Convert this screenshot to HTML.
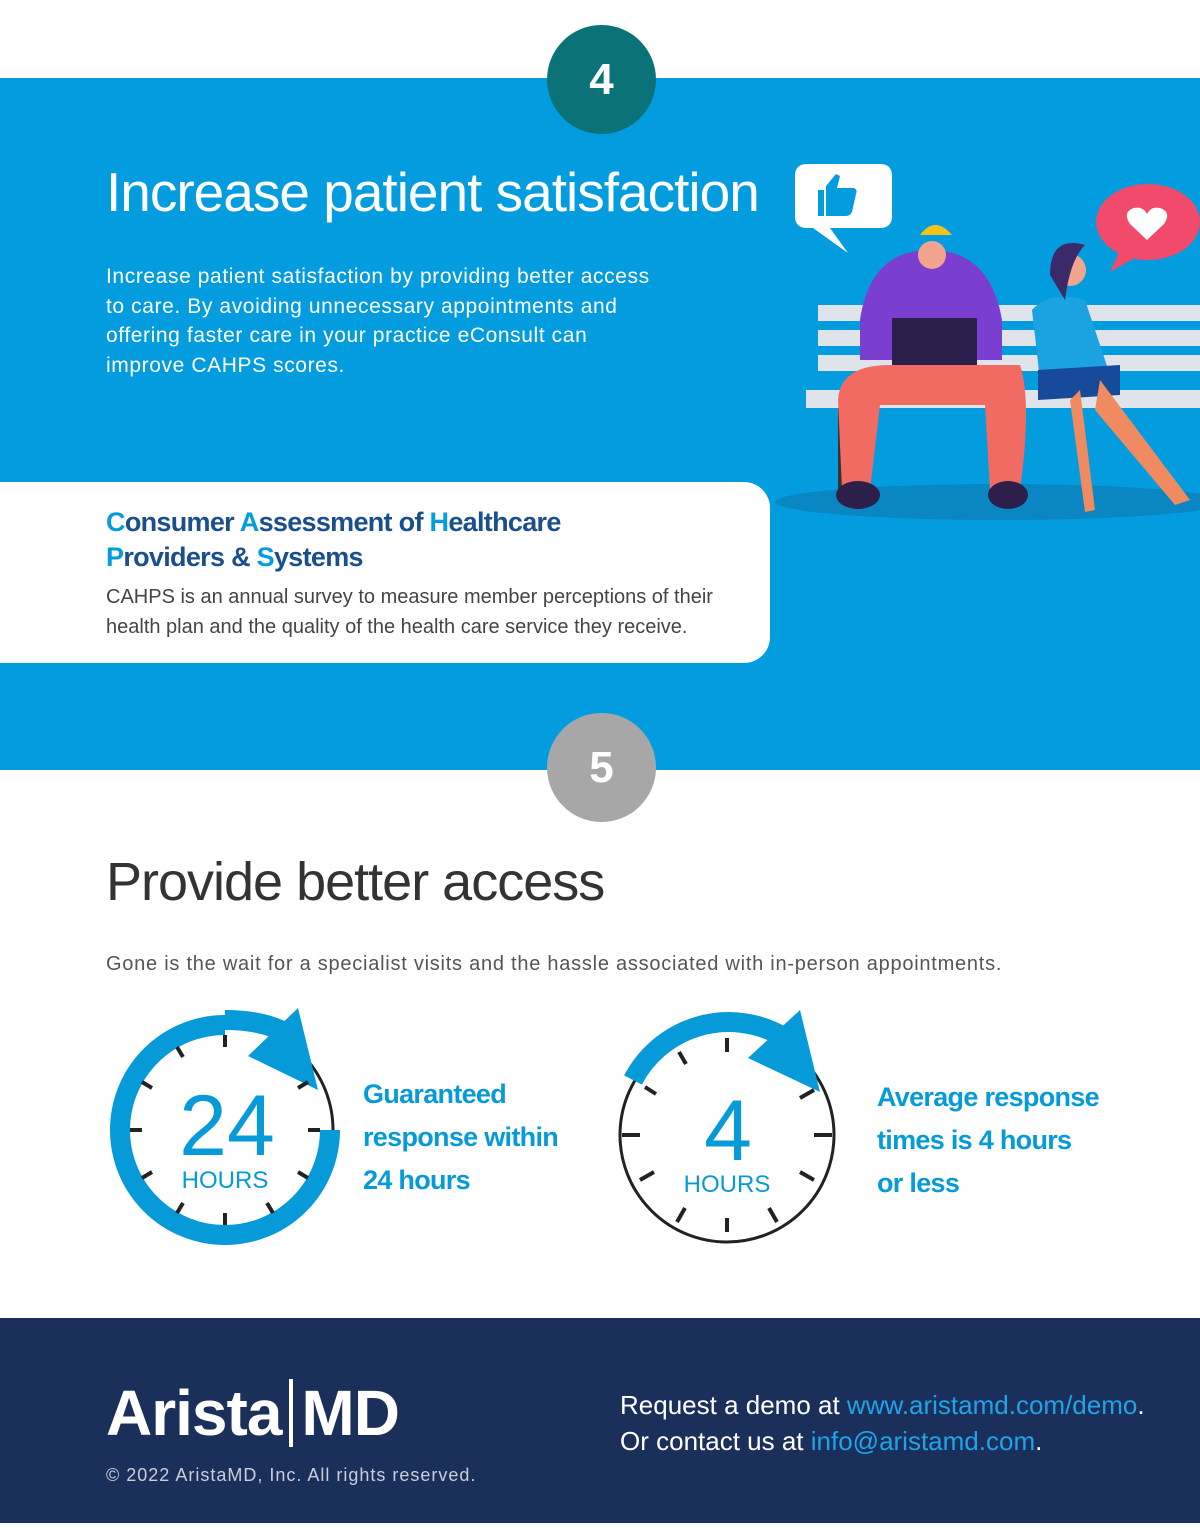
<!DOCTYPE html>
<html><head><meta charset="utf-8"><style>
body{margin:0;width:1200px;height:1533px;position:relative;background:#fff;font-family:"Liberation Sans",sans-serif;overflow:hidden}
.abs{position:absolute}
</style></head><body>
<div class="abs" style="left:0;top:78px;width:1200px;height:692px;background:#039ddf"></div>
<div class="abs" style="left:547px;top:25px;width:109px;height:109px;border-radius:50%;background:#0b7377;color:#fff;font-size:44px;font-weight:bold;text-align:center;line-height:109px">4</div>
<div class="abs" style="left:106px;top:160px;color:#fff;font-size:55px;font-weight:300;letter-spacing:-1px">Increase patient satisfaction</div>
<div class="abs" style="left:106px;top:262px;width:562px;color:#fff;font-size:21px;line-height:29.5px;letter-spacing:0.6px">Increase patient satisfaction by providing better access to care. By avoiding unnecessary appointments and offering faster care in your practice eConsult can improve CAHPS scores.</div>

<svg class="abs" style="left:770px;top:150px" width="430" height="380">
<ellipse cx="230" cy="352" rx="225" ry="18" fill="#0a86c2"/>
<rect x="48" y="155" width="382" height="16" fill="#dfe3ea"/>
<rect x="48" y="180" width="382" height="16" fill="#dfe3ea"/>
<rect x="48" y="205" width="382" height="16" fill="#dfe3ea"/>
<rect x="36" y="240" width="394" height="18" fill="#dfe3ea"/>
<rect x="68" y="258" width="10" height="90" fill="#333"/>
<path d="M90 170 Q100 100 160 100 Q220 100 232 170 L232 210 L90 210Z" fill="#7a3fd1"/>
<circle cx="162" cy="105" r="14" fill="#f2a48f"/>
<path d="M150 85 Q165 65 182 85 Z" fill="#f5c318"/>
<rect x="122" y="168" width="85" height="55" fill="#2c1f4a"/>
<path d="M68 250 Q70 215 120 215 L250 215 Q262 250 250 340 L220 340 L215 255 L110 255 L100 340 L72 340Z" fill="#f26b63"/>
<ellipse cx="88" cy="345" rx="22" ry="14" fill="#2c1f4a"/>
<ellipse cx="238" cy="345" rx="20" ry="14" fill="#2c1f4a"/>
<path d="M262 160 Q280 140 315 150 L340 225 L270 230Z" fill="#1ba2e0"/>
<circle cx="300" cy="120" r="16" fill="#f2a48f"/>
<path d="M280 125 Q280 85 315 95 Q300 110 295 150Z" fill="#3a2a6a"/>
<path d="M268 220 L350 215 L350 245 L268 250Z" fill="#174b9a"/>
<path d="M330 230 L420 350 L405 355 L325 260Z M310 240 L325 360 L315 362 L300 250Z" fill="#f08a60"/>
<path d="M37 14 h73 q12 0 12 12 v40 q0 12 -12 12 h-50 l18 25 -35 -25 h-6 q-12 0 -12 -12 v-40 q0 -12 12 -12Z" fill="#fff"/>
<path d="M56 36 l10 -12 l4 2 l-3 12 h17 q4 2 2 6 l-4 18 q-2 4 -6 4 h-20 Z M48 40 h6 v26 h-6Z" fill="#039ddf"/>
<ellipse cx="378" cy="72" rx="52" ry="38" fill="#f14a6a"/>
<path d="M350 100 L340 122 L368 106Z" fill="#f14a6a"/>
<path d="M377 90 L360 74 Q352 62 364 58 Q373 56 377 64 Q381 56 390 58 Q402 62 394 74Z" fill="#fff"/>
</svg>

<div class="abs" style="left:0;top:482px;width:770px;height:181px;background:#fff;border-radius:0 26px 26px 0"></div>
<div class="abs" style="left:106px;top:505px;color:#1a4e8c;font-size:27px;font-weight:bold;line-height:35px;letter-spacing:-0.7px"><span style="color:#039ddf">C</span>onsumer <span style="color:#039ddf">A</span>ssessment of <span style="color:#039ddf">H</span>ealthcare<br><span style="color:#039ddf">P</span>roviders &amp; <span style="color:#039ddf">S</span>ystems</div>
<div class="abs" style="left:106px;top:582px;width:640px;color:#444;font-size:20px;line-height:30px;font-weight:300">CAHPS is an annual survey to measure member perceptions of their health plan and the quality of the health care service they receive.</div>

<div class="abs" style="left:547px;top:713px;width:109px;height:109px;border-radius:50%;background:#a7a7a7;color:#fff;font-size:44px;font-weight:bold;text-align:center;line-height:109px">5</div>
<div class="abs" style="left:106px;top:851px;color:#333;font-size:54px;font-weight:300;letter-spacing:-1px">Provide better access</div>
<div class="abs" style="left:106px;top:953px;color:#555;font-size:20px;letter-spacing:0.75px">Gone is the wait for a specialist visits and the hassle associated with in-person appointments.</div>

<svg class="abs" style="left:0;top:990px" width="1200" height="280">
<g>
<circle cx="225" cy="140" r="108" fill="none" stroke="#222" stroke-width="3"/>
<path d="M330 140 A105 105 0 1 1 225 35" fill="none" stroke="#079ad9" stroke-width="20"/>
<path d="M225 30 Q265 30 290 45" fill="none" stroke="#079ad9" stroke-width="20"/>
<path d="M248 66 L298 18 L318 100Z" fill="#079ad9"/>
<g stroke="#222" stroke-width="4">
<line x1="225" y1="45" x2="225" y2="57"/><line x1="225" y1="223" x2="225" y2="235"/>
<line x1="130" y1="140" x2="142" y2="140"/><line x1="308" y1="140" x2="320" y2="140"/>
<line x1="177" y1="57" x2="183" y2="67"/><line x1="142" y1="92" x2="152" y2="98"/>
<line x1="142" y1="188" x2="152" y2="182"/><line x1="177" y1="223" x2="183" y2="213"/>
<line x1="273" y1="223" x2="267" y2="213"/><line x1="308" y1="188" x2="298" y2="182"/>
<line x1="308" y1="92" x2="298" y2="98"/></g>
<text x="227" y="165" text-anchor="middle" font-size="86" fill="#079ad9" font-family="Liberation Sans" font-weight="300">24</text>
<text x="225" y="198" text-anchor="middle" font-size="24" fill="#079ad9" font-family="Liberation Sans">HOURS</text>
</g>
<g>
<circle cx="727" cy="145" r="107" fill="none" stroke="#222" stroke-width="3"/>
<path d="M633 90 A108 108 0 0 1 780 45" fill="none" stroke="#079ad9" stroke-width="20"/>
<path d="M748 68 L800 20 L820 102Z" fill="#079ad9"/>
<g stroke="#222" stroke-width="4">
<line x1="727" y1="48" x2="727" y2="62"/><line x1="727" y1="228" x2="727" y2="242"/>
<line x1="622" y1="145" x2="640" y2="145"/><line x1="814" y1="145" x2="832" y2="145"/>
<line x1="679" y1="62" x2="686" y2="74"/><line x1="645" y1="97" x2="656" y2="104"/>
<line x1="640" y1="190" x2="654" y2="182"/><line x1="677" y1="232" x2="685" y2="218"/>
<line x1="777" y1="232" x2="769" y2="218"/><line x1="814" y1="190" x2="800" y2="182"/>
<line x1="814" y1="100" x2="800" y2="108"/></g>
<text x="728" y="170" text-anchor="middle" font-size="86" fill="#079ad9" font-family="Liberation Sans" font-weight="300">4</text>
<text x="727" y="202" text-anchor="middle" font-size="24" fill="#079ad9" font-family="Liberation Sans">HOURS</text>
</g>
</svg>
<div class="abs" style="left:363px;top:1073px;color:#079ad9;font-size:27px;font-weight:bold;line-height:43px;letter-spacing:-0.7px">Guaranteed<br>response within<br>24 hours</div>
<div class="abs" style="left:877px;top:1076px;color:#079ad9;font-size:27px;font-weight:bold;line-height:43px;letter-spacing:-0.7px">Average response<br>times is 4 hours<br>or less</div>

<div class="abs" style="left:0;top:1318px;width:1200px;height:205px;background:#1b2f5b"></div>
<div class="abs" style="left:106px;top:1376px;color:#fff;font-size:64px;font-weight:bold;letter-spacing:-1px">Arista<span style="display:inline-block;width:4px;height:68px;background:#fff;margin:0 8px;vertical-align:-12px"></span>MD</div>
<div class="abs" style="left:106px;top:1465px;color:#ccd;font-size:18px;letter-spacing:1px">© 2022 AristaMD, Inc. All rights reserved.</div>
<div class="abs" style="left:620px;top:1387px;color:#fff;font-size:26px;line-height:36px;font-weight:300">Request a demo at <span style="color:#1ea4e8">www.aristamd.com/demo</span>.<br>Or contact us at <span style="color:#1ea4e8">info@aristamd.com</span>.</div>
</body></html>
